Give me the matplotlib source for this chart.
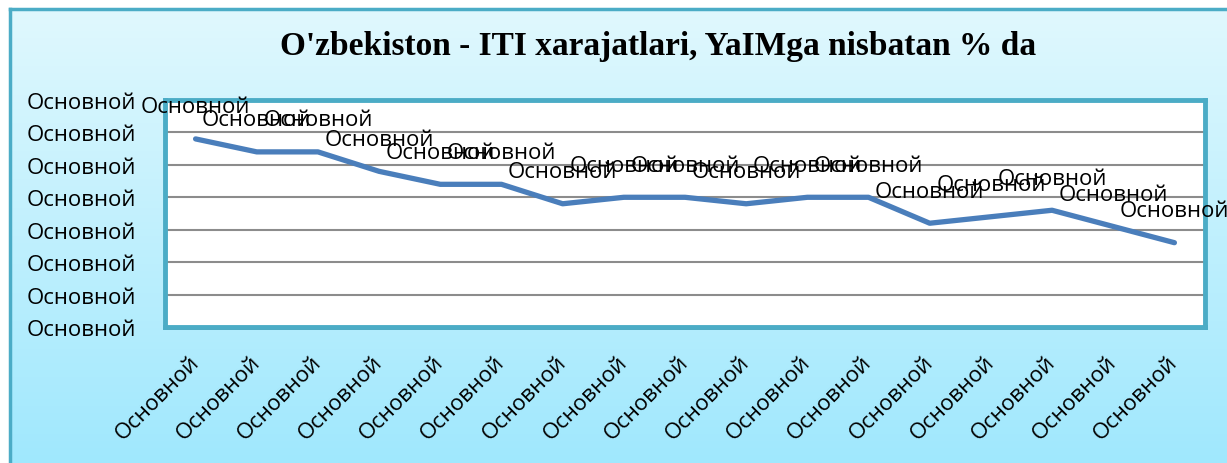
import numpy as np
import matplotlib
matplotlib.use("Agg")
import matplotlib.pyplot as plt
from matplotlib.patches import Rectangle

# chart data (ITI spending, % of GDP) - labels in the source are placeholders
categories = ["Основной"] * 17
values = [0.29, 0.27, 0.27, 0.24, 0.22, 0.22, 0.19, 0.20, 0.20,
          0.19, 0.20, 0.20, 0.16, 0.17, 0.18, 0.155, 0.13]
y_ticks = [0, 0.05, 0.10, 0.15, 0.20, 0.25, 0.30, 0.35]
y_tick_labels = ["Основной"] * len(y_ticks)
point_labels = ["Основной"] * len(values)
title = "O'zbekiston - ITI xarajatlari, YaIMga nisbatan % da"

W, H = 1227, 464
fig = plt.figure(figsize=(W / 100, H / 100), dpi=100)
fig.patch.set_facecolor("white")

# background panel with vertical gradient
bg = fig.add_axes([0, 0, 1, 1])
bg.set_xlim(0, W)
bg.set_ylim(H, 0)
bg.axis("off")
top_c = np.array([224, 248, 254]) / 255
bot_c = np.array([160, 232, 253]) / 255
t = np.linspace(0, 1, 256)[:, None]
grad = (top_c * (1 - t) + bot_c * t)[:, None, :]
bg.imshow(grad, extent=[10, W, H, 10], aspect="auto", zorder=0)
bg.plot([10, 10], [10, H], color="#4bacc6", lw=2.5, zorder=1)
bg.plot([10, W], [10, 10], color="#4bacc6", lw=2.5, zorder=1)
# shadow behind the plot area
bg.add_patch(Rectangle((167, 103), 1040, 228, facecolor="#7a9aa6", edgecolor="none", zorder=1))

ax = fig.add_axes([165 / W, 1 - 328 / H, 1040 / W, 227 / H])
ax.set_facecolor("white")
x = np.arange(len(values))
ax.plot(x, values, color="#4a7ebb", lw=3.8, solid_capstyle="round", zorder=3)

ax.set_xlim(-0.5, len(values) - 0.5)
ax.set_ylim(0, 0.35)
ax.set_yticks(y_ticks)
ax.set_yticklabels(y_tick_labels)
ax.set_xticks(x)
ax.set_xticklabels(categories, rotation=45, ha="right", va="center",
                   rotation_mode="anchor")

ax.tick_params(axis="both", length=0, labelsize=16)
ax.tick_params(axis="y", pad=21)
ax.tick_params(axis="x", pad=23)
for lab in ax.get_xticklabels() + ax.get_yticklabels():
    lab.set_fontfamily("Open Sans")

ax.grid(axis="y", color="#8c8c8c", lw=1.5, zorder=1)
ax.set_axisbelow(True)
for s in ax.spines.values():
    s.set_color("#4bacc6")
    s.set_linewidth(3.5)

for xi, v, lbl in zip(x, values, point_labels):
    ax.annotate(lbl, (xi, v), xytext=(0, 23), textcoords="offset points",
                ha="center", va="center", fontsize=16, fontfamily="Open Sans",
                annotation_clip=False, zorder=4)

fig.text(658 / W, 1 - 46 / H, title, ha="center", va="center",
         fontsize=24, fontweight="bold", fontfamily="Liberation Serif")

fig.savefig("out.png", dpi=100)
